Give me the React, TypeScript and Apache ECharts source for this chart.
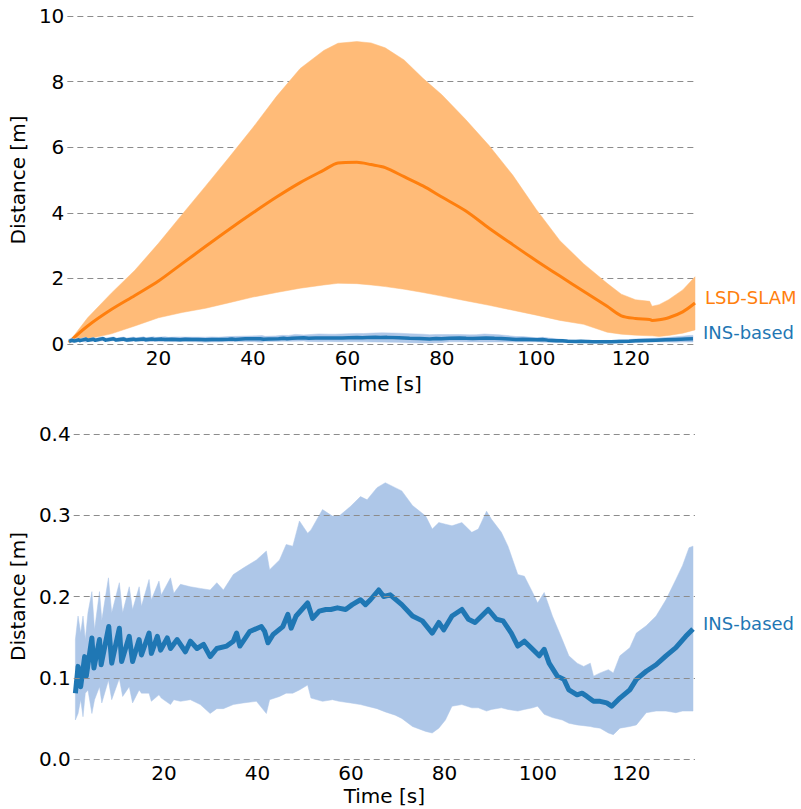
import React, { useEffect, useRef } from "react";
import * as echarts from "echarts";

// ---------- Data ----------
const xTickLabels = [20, 40, 60, 80, 100, 120];
const topYTicks = { min: 0, max: 10, interval: 2 };
const bottomYTicks = [0, 0.1, 0.2, 0.3, 0.4];

const lsdT = [1, 5, 10, 15, 20, 25, 30, 35, 40, 45, 50, 55, 58, 62, 65, 68, 72, 76, 80, 85, 90, 95, 100, 105, 110, 115, 118, 121, 124, 124.5, 126, 128, 131, 133.6];
const lsdMean = [0.05, 0.55, 1.05, 1.48, 1.92, 2.45, 2.98, 3.5, 4.0, 4.48, 4.92, 5.3, 5.52, 5.54, 5.47, 5.38, 5.1, 4.82, 4.48, 4.06, 3.53, 3.03, 2.54, 2.07, 1.61, 1.15, 0.86, 0.78, 0.75, 0.72, 0.74, 0.8, 0.98, 1.25];
const lsdUpper = [0.05, 0.8, 1.55, 2.25, 3.07, 3.95, 4.82, 5.7, 6.6, 7.55, 8.4, 8.95, 9.17, 9.22, 9.18, 9.03, 8.66, 8.1, 7.6, 6.85, 6.05, 5.15, 4.1, 3.15, 2.45, 1.85, 1.52, 1.35, 1.3, 1.15, 1.2, 1.35, 1.65, 2.05];
const lsdLower = [0.05, 0.15, 0.31, 0.55, 0.8, 0.96, 1.09, 1.26, 1.43, 1.57, 1.7, 1.8, 1.85, 1.84, 1.8, 1.75, 1.67, 1.57, 1.46, 1.32, 1.18, 1.03, 0.88, 0.72, 0.6, 0.36, 0.3, 0.27, 0.25, 0.25, 0.23, 0.26, 0.33, 0.43];

const insBandT = [1.06, 1.63, 2.19, 2.69, 3.18, 3.75, 4.59, 5.16, 6.22, 6.71, 8.13, 8.83, 10.46, 11.17, 12.58, 13.29, 14.7, 15.19, 16.82, 17.31, 18.94, 19.43, 21.41, 22.12, 23.53, 25.65, 27.77, 29.89, 31.31, 32.72, 34.84, 36.96, 39.79, 41.91, 42.61, 44.73, 46.15, 47.56, 48.98, 50.74, 51.45, 53.92, 56.04, 57.46, 59.93, 62.05, 63.46, 65.58, 67.35, 69.47, 70.88, 73.17, 75.99, 77.39, 78.8, 80.21, 81.62, 83.73, 85.85, 87.25, 89.01, 90.07, 92.18, 93.59, 95.7, 97.11, 98.87, 99.93, 101.34, 103.1, 105.21, 106.62, 108.38, 109.79, 111.2, 111.9, 113.31, 115.07, 116.13, 117.54, 119.65, 121.06, 123.17, 125.28, 127.39, 129.51, 130.92, 132.32, 133.17];
const insUpper = [0.147, 0.176, 0.155, 0.176, 0.147, 0.18, 0.206, 0.159, 0.206, 0.171, 0.223, 0.18, 0.217, 0.18, 0.212, 0.184, 0.212, 0.188, 0.221, 0.196, 0.219, 0.202, 0.223, 0.204, 0.215, 0.212, 0.21, 0.208, 0.217, 0.208, 0.227, 0.235, 0.245, 0.256, 0.233, 0.245, 0.264, 0.262, 0.293, 0.278, 0.282, 0.307, 0.299, 0.299, 0.311, 0.323, 0.319, 0.334, 0.34, 0.334, 0.33, 0.312, 0.299, 0.283, 0.291, 0.289, 0.287, 0.291, 0.279, 0.283, 0.305, 0.295, 0.279, 0.262, 0.227, 0.225, 0.205, 0.192, 0.205, 0.176, 0.147, 0.127, 0.118, 0.114, 0.118, 0.102, 0.106, 0.11, 0.106, 0.127, 0.137, 0.155, 0.164, 0.176, 0.196, 0.221, 0.238, 0.26, 0.262];
const insLower = [0.048, 0.056, 0.073, 0.052, 0.081, 0.085, 0.056, 0.073, 0.089, 0.069, 0.097, 0.073, 0.099, 0.077, 0.089, 0.069, 0.085, 0.081, 0.081, 0.071, 0.079, 0.075, 0.067, 0.073, 0.071, 0.073, 0.067, 0.056, 0.062, 0.062, 0.067, 0.069, 0.071, 0.056, 0.073, 0.077, 0.081, 0.081, 0.085, 0.091, 0.075, 0.071, 0.073, 0.071, 0.069, 0.067, 0.065, 0.062, 0.058, 0.054, 0.05, 0.04, 0.034, 0.032, 0.038, 0.048, 0.065, 0.067, 0.063, 0.063, 0.059, 0.061, 0.063, 0.061, 0.059, 0.061, 0.063, 0.065, 0.055, 0.051, 0.048, 0.044, 0.042, 0.041, 0.04, 0.039, 0.038, 0.032, 0.03, 0.038, 0.04, 0.042, 0.057, 0.059, 0.059, 0.057, 0.059, 0.059, 0.059];

const insMeanT = [1.06, 1.63, 2.19, 3.04, 3.39, 4.59, 5.02, 6.22, 6.57, 8.2, 8.83, 10.46, 10.95, 12.58, 13.29, 14.7, 15.19, 16.82, 17.31, 18.59, 19.29, 20.71, 21.41, 22.83, 24.59, 25.65, 27.07, 28.48, 29.89, 31.31, 33.43, 34.84, 35.55, 36.25, 38.37, 40.85, 41.55, 42.26, 43.32, 45.44, 46.5, 47.21, 48.27, 50.74, 51.8, 53.22, 54.63, 55.69, 57.1, 58.87, 60.28, 62.05, 63.11, 64.17, 65.94, 67.0, 68.41, 70.88, 73.17, 75.28, 77.39, 78.8, 79.86, 81.62, 83.73, 85.14, 86.55, 87.96, 89.37, 91.13, 92.54, 94.3, 95.7, 97.11, 98.87, 100.28, 101.34, 102.39, 104.15, 105.56, 106.62, 108.38, 109.44, 110.49, 111.9, 113.31, 114.72, 115.77, 117.54, 119.65, 121.06, 123.17, 125.28, 127.39, 129.51, 131.62, 133.17];
const insMean = [0.081, 0.114, 0.089, 0.126, 0.102, 0.149, 0.112, 0.147, 0.116, 0.163, 0.118, 0.161, 0.12, 0.151, 0.12, 0.147, 0.128, 0.155, 0.13, 0.151, 0.134, 0.149, 0.136, 0.147, 0.132, 0.145, 0.136, 0.141, 0.126, 0.136, 0.139, 0.145, 0.155, 0.139, 0.157, 0.163, 0.157, 0.143, 0.153, 0.163, 0.178, 0.161, 0.176, 0.192, 0.173, 0.182, 0.184, 0.184, 0.186, 0.184, 0.19, 0.196, 0.19, 0.196, 0.208, 0.2, 0.202, 0.19, 0.176, 0.17, 0.155, 0.168, 0.159, 0.176, 0.184, 0.172, 0.168, 0.176, 0.184, 0.172, 0.17, 0.155, 0.139, 0.145, 0.135, 0.127, 0.135, 0.118, 0.102, 0.098, 0.085, 0.079, 0.081, 0.077, 0.071, 0.071, 0.069, 0.065, 0.075, 0.085, 0.098, 0.108, 0.116, 0.127, 0.137, 0.151, 0.16];

// ---------- Styles ----------
const ORANGE = "#ff7f0e";
const ORANGE_FILL = "#ffbb78";
const BLUE = "#1f77b4";
const BLUE_FILL = "#aec7e8";
const GRID_COLOR = "#8c8c8c";
const FONT = "DejaVu Sans";
const X_MIN = 0.7;
const X_MAX = 133.6;

const zip = (a: number[], b: number[]) => a.map((v, i) => [v, b[i]]);

// Band between lower and upper, drawn as one polygon through the axes' scales
function band(t: number[], lo: number[], up: number[], color: string, axis: number, z: number) {
  return {
    type: "custom", xAxisIndex: axis, yAxisIndex: axis, silent: true, z,
    data: [[t[0], lo[0]]],
    renderItem: (_params: any, api: any) => {
      const pts: number[][] = [];
      for (let i = 0; i < t.length; i++) pts.push(api.coord([t[i], up[i]]));
      for (let i = t.length - 1; i >= 0; i--) pts.push(api.coord([t[i], lo[i]]));
      return { type: "polygon", shape: { points: pts }, style: { fill: color, stroke: color, lineWidth: 0.5 }, silent: true };
    },
  };
}

function meanLine(t: number[], v: number[], color: string, width: number, axis: number, label: string, z: number, smooth = 0) {
  return {
    type: "line", xAxisIndex: axis, yAxisIndex: axis, data: zip(t, v), symbol: "none",
    showSymbol: false, silent: true, z, smooth,
    lineStyle: { color, width, join: "round" },
    endLabel: {
      show: true, formatter: label, color, fontSize: 18, fontFamily: FONT,
      distance: 10, offset: [0, -6],
    },
  };
}

const xAxisBase = (idx: number) => ({
  type: "value", gridIndex: idx, min: X_MIN, max: X_MAX,
  axisLine: { show: false }, axisTick: { show: false }, splitLine: { show: false },
  axisLabel: { customValues: xTickLabels, fontSize: 20, color: "#000", fontFamily: FONT, margin: 4 },
  name: "Time [s]", nameLocation: "middle", nameGap: idx === 0 ? 30 : 27,
  nameTextStyle: { fontSize: 20, color: "#000", fontFamily: FONT },
});

export default function App() {
  const ref = useRef<HTMLDivElement>(null);
  useEffect(() => {
    if (!ref.current) return;
    const chart = echarts.init(ref.current, undefined, { renderer: "svg" });
    const option: any = {
      animation: false,
      backgroundColor: "#fff",
      textStyle: { fontFamily: FONT },
      grid: [
        { left: 62, right: 106, top: 16, height: 328 },
        { left: 70, right: 106, top: 434, height: 325 },
      ],
      xAxis: [xAxisBase(0), xAxisBase(1)],
      yAxis: [
        {
          type: "value", gridIndex: 0, min: topYTicks.min, max: topYTicks.max, interval: topYTicks.interval,
          axisLine: { show: false }, axisTick: { show: false },
          axisLabel: { fontSize: 20, color: "#000", fontFamily: FONT, margin: 3 },
          splitLine: { show: true, lineStyle: { color: GRID_COLOR, type: [6, 4], width: 1 } },
          name: "Distance [m]", nameLocation: "middle", nameGap: 34,
          nameTextStyle: { fontSize: 20, color: "#000", fontFamily: FONT },
        },
        {
          type: "value", gridIndex: 1, min: 0, max: 0.4, interval: 0.1,
          axisLine: { show: false }, axisTick: { show: false },
          axisLabel: { fontSize: 20, color: "#000", fontFamily: FONT, margin: 3, formatter: (v: number) => v.toFixed(1) },
          splitLine: { show: false },
          name: "Distance [m]", nameLocation: "middle", nameGap: 42,
          nameTextStyle: { fontSize: 20, color: "#000", fontFamily: FONT },
        },
      ],
      series: [
        band(lsdT, lsdLower, lsdUpper, ORANGE_FILL, 0, 2),
        meanLine(lsdT, lsdMean, ORANGE, 3, 0, "LSD-SLAM", 3, 0.3),
        band(insBandT, insLower, insUpper, BLUE_FILL, 0, 4),
        meanLine(insMeanT, insMean, BLUE, 3.5, 0, "INS-based", 5),
        band(insBandT, insLower, insUpper, BLUE_FILL, 1, 2),
        {
          type: "line", xAxisIndex: 1, yAxisIndex: 1, data: [[X_MIN, 0], [X_MAX, 0]],
          symbol: "none", silent: true, z: 3, lineStyle: { opacity: 0, width: 0 },
          markLine: {
            silent: true, symbol: "none", label: { show: false },
            lineStyle: { color: GRID_COLOR, type: [6, 4], width: 1 },
            data: bottomYTicks.map((v) => ({ yAxis: v })),
          },
        },
        meanLine(insMeanT, insMean, BLUE, 5, 1, "INS-based", 4),
      ],
    };
    chart.setOption(option);
    return () => chart.dispose();
  }, []);
  return <div ref={ref} style={{ position: "fixed", left: 0, top: 0, width: 801, height: 809 }} />;
}
